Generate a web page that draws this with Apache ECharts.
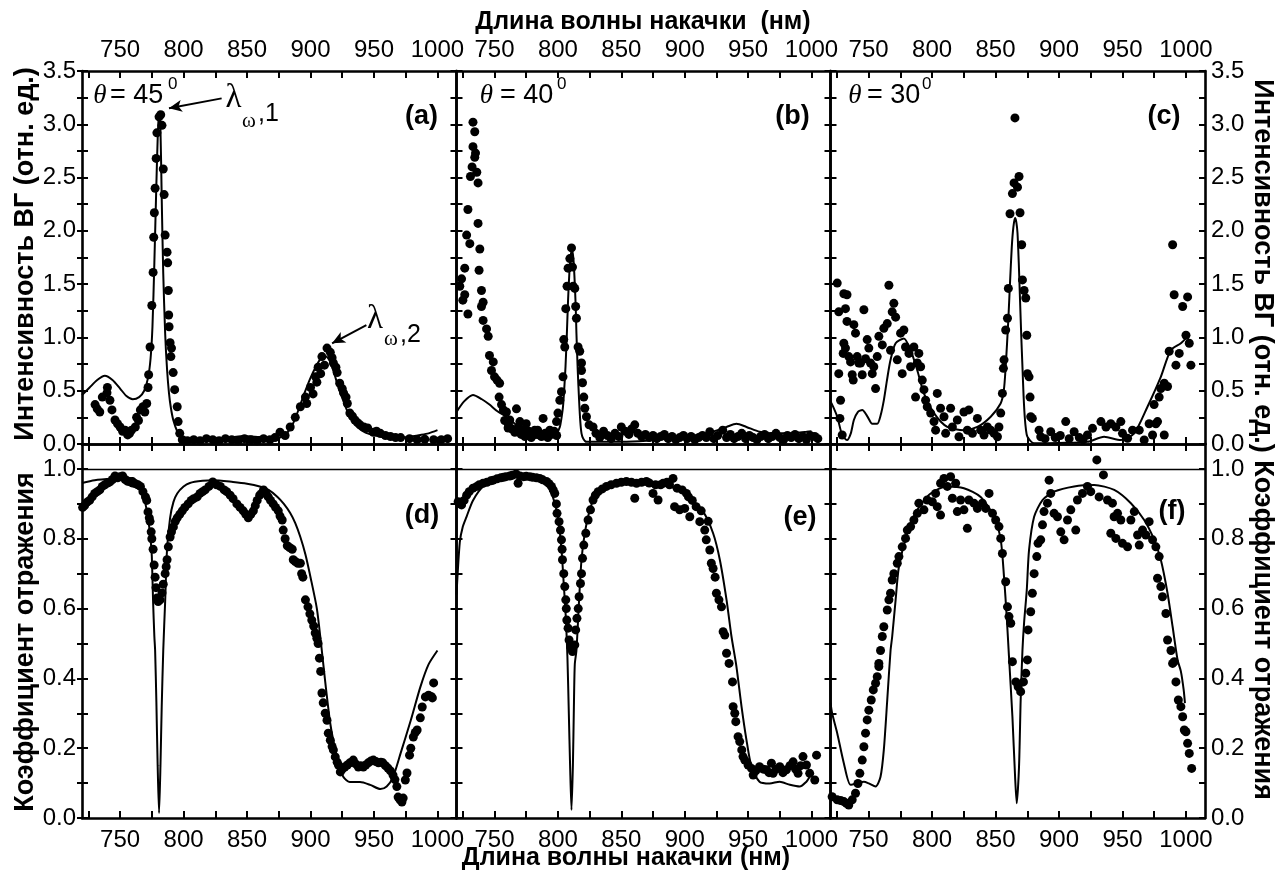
<!DOCTYPE html>
<html lang="ru">
<head>
<meta charset="UTF-8">
<title>ВГ и коэффициент отражения</title>
<style>
  html, body { margin: 0; padding: 0; background: #fff; }
  #chart { width: 1284px; height: 876px; }
</style>
</head>
<body>
<div id="chart"></div>
<script src="https://cdn.jsdelivr.net/npm/echarts@6/dist/echarts.min.js"></script>
<script>
// ---- оси ----
var xTicks = [725, 750, 775, 800, 825, 850, 875, 900, 925, 950, 975, 1000];
var xLabels = [750, 800, 850, 900, 950, 1000];
var shgTicks = [0, 0.25, 0.5, 0.75, 1, 1.25, 1.5, 1.75, 2, 2.25, 2.5, 2.75, 3, 3.25, 3.5];
var shgLabels = [0, 0.5, 1, 1.5, 2, 2.5, 3, 3.5];
var refTicks = [0, 0.1, 0.2, 0.3, 0.4, 0.5, 0.6, 0.7, 0.8, 0.9, 1.0];
var refLabels = [0, 0.2, 0.4, 0.6, 0.8, 1.0];

// ---- (a) theta = 45 ----
var dotsA = [[730.3,0.37],[732,0.33],[734,0.30],[736,0.44],[739.7,0.48],[740,0.53],[742,0.41],[743.6,0.32],[746,0.225],[748,0.19],[750,0.16],[752,0.12],[754,0.13],[756,0.085],[757.5,0.1],[759,0.13],[762,0.16],[763,0.25],[764.5,0.22],[766,0.32],[768,0.35],[769.5,0.3],[771,0.38],[772,0.53],[772.5,0.65],[773.6,0.91],[775,1.30],[776,1.61],[776.5,1.94],[777,2.17],[777.6,2.40],[778.4,2.68],[779,2.92],[780.7,3.07],[782,3.09],[783,2.99],[784,2.58],[784.7,2.34],[785.5,1.96],[787,1.80],[787.5,1.70],[788,1.44],[788.3,1.21],[788.6,1.10],[789.4,0.95],[790,0.82],[790.5,0.9],[791.8,0.67],[793,0.51],[795,0.35],[795.7,0.21],[797,0.10],[799,0.04],
  [803,0.03],[808,0.04],[813,0.03],[818,0.05],[823,0.04],[828,0.03],[833,0.05],[838,0.04],[843,0.03],[848,0.05],[853,0.04],[858,0.03],[863,0.05],[868,0.04],[872,0.06],[876,0.11],[880,0.08],[884,0.16],[888,0.25],[892,0.35],[896,0.44],[897,0.38],[900,0.53],[902,0.47],[904,0.63],[905,0.58],[906,0.72],[908,0.66],[909,0.82],[911,0.74],[913,0.90],[915.6,0.86],[917,0.81],[918,0.76],[920,0.72],[921,0.67],[923,0.57],[925,0.52],[926,0.48],[928,0.44],[929,0.38],[931,0.29],[933,0.26],[935,0.225],[937,0.2],[939,0.18],[942,0.16],[945,0.15],[949.5,0.11],[952,0.12],[955,0.10],[959,0.08],[963,0.07],[967,0.06],[971,0.06],[978,0.05],[984,0.04],[990,0.045],[997,0.04],[1003,0.04],[1008,0.05]];
var lineA = [[720,0.46],[726,0.53],[732,0.6],[738,0.64],[744,0.6],[750,0.52],[755,0.45],[760,0.42],[765,0.44],[769,0.5],[772,0.62],[774,0.8],[775.5,1.1],[777,1.7],[778.5,2.4],[779.7,2.9],[780.7,3.12],[781.8,2.95],[782.8,2.3],[784,1.6],[785.5,1.04],[787,0.7],[788.5,0.48],[790,0.34],[792,0.22],[795,0.12],[798,0.07],[803,0.045],[815,0.04],[830,0.05],[847,0.075],[860,0.065],[874,0.055],[880,0.09],[884,0.14],[888,0.24],[892,0.37],[896,0.5],[900,0.62],[904,0.72],[908,0.8],[912,0.82],[915.6,0.77],[919,0.65],[922,0.53],[926,0.4],[929,0.31],[933,0.23],[937,0.16],[943,0.11],[949.5,0.085],[956,0.065],[963,0.055],[970,0.058],[976,0.065],[986.5,0.085],[993,0.1],[1000,0.13]];

// ---- (b) theta = 40 ----
var dotsB = [[722.6,1.48],[724,1.55],[725,1.35],[726.5,1.65],[726.5,1.40],[728,1.96],[729,2.20],[729,1.22],[730.5,1.88],[731,2.51],[732.3,2.60],[733,3.02],[733,2.79],[734.4,2.93],[734.4,2.69],[735,2.73],[736,2.55],[737,2.45],[737,2.07],[737.8,1.63],[738.4,1.83],[739.7,1.44],[739.7,1.29],[741,1.33],[741,1.16],[743.7,1.08],[745,1.01],[746,0.83],[747.6,0.69],[749,0.77],[750,0.63],[752,0.6],[753.6,0.44],[754,0.57],[755.5,0.37],[757,0.32],[758,0.22],[759.4,0.30],[760.7,0.15],[761,0.18],[762,0.225],[764,0.14],[766,0.11],[767.3,0.33],[769,0.16],[770,0.21],[771,0.09],[772.5,0.13],[774,0.07],[775,0.19],[776.5,0.10],[777,0.12],[779,0.06],[781.7,0.13],[782,0.09],[784,0.13],[785.7,0.10],[787,0.07],[788.3,0.24],[790,0.10],[792,0.06],[793.6,0.13],[795,0.09],[797,0.12],[798.9,0.21],[799,0.08],[800,0.29],[801.5,0.41],[802.8,0.49],[804,0.63],[804.6,0.98],[805.4,0.91],[806.2,1.27],[807.2,1.48],[808,1.65],[809.4,1.74],[810.7,1.84],[811.5,1.66],[812,1.48],[813.3,1.46],[814,1.29],[814.6,1.18],[815.9,0.91],[817.2,0.87],[818.6,0.76],[818.6,0.69],[819.4,0.575],[820.4,0.44],[821.2,0.335],[822.5,0.256],[824.6,0.18],[827.7,0.16],
  [830,0.10],[833,0.06],[836,0.12],[839,0.08],[842,0.05],[845,0.10],[848,0.07],[850,0.16],[853,0.12],[856,0.09],[858,0.14],[860.6,0.18],[863,0.10],[866,0.07],[869,0.09],[872,0.06],[875,0.08],[878,0.05],[881,0.07],[884,0.09],[887,0.05],[890,0.07],[893,0.04],[896,0.06],[899,0.08],[902,0.05],[905,0.07],[908,0.04],[911,0.06],[914,0.08],[917,0.06],[919.8,0.115],[923,0.05],[926,0.08],[930,0.13],[933,0.06],[936,0.09],[939,0.05],[942,0.07],[945,0.1],[948,0.05],[951,0.08],[954,0.06],[957,0.04],[960,0.07],[963,0.09],[966,0.05],[969,0.07],[972,0.1],[975,0.06],[978,0.04],[981,0.08],[984,0.06],[987,0.09],[990,0.05],[993,0.07],[996,0.04],[999,0.08],[1002.6,0.07],[1005,0.05]];
var lineB = [[720,0.30],[726,0.4],[733,0.46],[740,0.42],[746,0.37],[752,0.31],[759.4,0.256],[766,0.19],[772.5,0.13],[779,0.08],[785.7,0.05],[791,0.05],[796,0.07],[799,0.1],[801.5,0.16],[803,0.26],[804,0.35],[805,0.52],[806,0.73],[807,1.02],[808,1.35],[809,1.6],[810,1.76],[811.2,1.82],[812.2,1.74],[813,1.58],[814,1.3],[814.6,1.04],[815.6,0.7],[816.7,0.41],[817.6,0.22],[818.6,0.10],[820,0.05],[822.5,0.02],[835,0.02],[850,0.02],[870,0.03],[890.6,0.053],[905,0.075],[917,0.10],[926,0.13],[933,0.16],[940.8,0.19],[948.7,0.16],[959,0.115],[969.7,0.10],[983,0.10],[996,0.115],[1000,0.12]];

// ---- (c) theta = 30 ----
var dotsC = [[725.3,1.51],[726.5,1.24],[726.5,0.66],[727.4,0.24],[727.9,0.41],[729.2,0.084],[730,0.85],[730.5,1.41],[730.5,0.945],[731.8,1.27],[731.8,0.90],[733,1.40],[733,1.15],[734.4,0.82],[735.8,0.77],[737.1,0.65],[737.9,0.60],[738.4,1.12],[739.7,1.04],[741,0.82],[742.3,0.76],[743.7,0.76],[745,0.65],[746.3,1.26],[747.6,0.80],[748.9,0.98],[750.2,0.90],[751.5,0.76],[752.9,0.66],[754.1,0.725],[755.5,0.52],[756.8,0.82],[758.1,1.01],[760.8,0.93],[762,1.085],[764.7,1.13],[766,1.49],[767.3,0.88],[768.6,1.24],[769.9,1.32],[771.3,1.19],[772.6,0.79],[775.2,1.04],[776.5,0.66],[777.8,1.07],[779.1,0.91],[781.8,0.85],[783.1,0.725],[785.7,0.91],[787,0.44],[788.4,0.76],[789.6,0.85],[791,0.725],[792.3,0.60],[793.6,0.51],[794.9,0.41],[796.2,0.35],[798.9,0.29],[801.5,0.21],[802.8,0.13],[804.1,0.475],[806.7,0.335],[809.4,0.256],[810.7,0.10],[814.6,0.335],[816,0.16],[819.9,0.225],[821.2,0.068],[825.1,0.30],[827.8,0.13],[829,0.32],[831.8,0.10],[835.7,0.24],[838.3,0.13],[840.9,0.084],[843.6,0.16],[846.2,0.13],[848.8,0.10],[851.5,0.068],[852.7,0.16],[854.1,0.29],[855.4,0.475],[856.2,0.71],[856.7,0.79],[858,1.07],[859.4,1.18],[860.1,1.46],[861.4,2.16],[863.3,2.35],[864.6,2.45],[865.3,3.06],[867.3,2.41],[868.5,2.51],[869.3,2.17],[870.6,1.87],[871.2,1.54],[872.5,1.44],[873.8,1.37],[874.6,1.02],[875.1,0.66],[876.4,0.63],[877.2,0.44],[877.7,0.256],[879,0.24],[884.3,0.13],[885.6,0.068],[889,0.05],[893.5,0.115],[897,0.06],[901,0.08],[905.3,0.21],[908,0.05],[911.9,0.115],[916,0.06],[919,0.04],[922.4,0.084],[926.4,0.147],[933,0.21],[937,0.16],[940.8,0.19],[944.8,0.16],[948.7,0.21],[950,0.10],[954,0.053],[957.9,0.13],[963.2,0.13],[967.1,0.037],[971,0.19],[973.7,0.084],[974.9,0.37],[976.3,0.19],[977.6,0.21],[978.9,0.44],[980.2,0.52],[982.9,0.57],[982.9,0.084],[985.5,0.54],[986.8,0.87],[989.5,1.87],[990.7,1.40],[992.1,0.74],[994.7,0.85],[997.4,1.29],[1000,1.02],[1001.3,1.38],[1002.6,0.945],[1003.9,0.74]];
var lineC = [[720,0.40],[721.3,0.37],[725.3,0.256],[729.2,0.084],[733,0.037],[736,0.1],[738.4,0.225],[741.5,0.3],[745,0.32],[749,0.26],[752.9,0.19],[756.8,0.19],[759.5,0.27],[762,0.41],[764.5,0.6],[767.3,0.79],[771.3,0.945],[777.8,0.99],[783.1,0.88],[788.4,0.69],[793.6,0.475],[801.5,0.29],[812,0.16],[825.1,0.13],[835.7,0.16],[846.2,0.256],[854,0.38],[856.5,0.5],[858,0.725],[860,1.15],[861.4,1.51],[862.8,1.85],[864.1,2.04],[865.4,2.12],[866.4,2.08],[867.3,1.98],[868.3,1.7],[869.3,1.35],[870.3,1.0],[871.2,0.725],[872.1,0.45],[873,0.256],[874,0.13],[875.1,0.068],[880.4,0.007],[900,0.01],[922.4,0.02],[935.5,0.068],[948.7,0.037],[959.2,0.10],[969.7,0.35],[980.2,0.63],[988,0.88],[996,0.945],[1001.3,1.01]];

// ---- (d) theta = 45 ----
var dotsD = [[720.5,0.89],[722,0.895],[724,0.905],[726,0.91],[728,0.92],[730,0.93],[732,0.935],[734,0.94],[736,0.95],[738,0.955],[740,0.96],[742,0.963],[744,0.97],[746,0.98],[748,0.975],[750,0.978],[752,0.98],[754,0.97],[756,0.965],[758,0.963],[760,0.96],[762,0.958],[764,0.955],[766,0.95],[768,0.935],[770,0.92],[771,0.91],[772,0.877],[773,0.86],[773.6,0.85],[774.5,0.82],[775,0.80],[776,0.77],[776.8,0.725],[777.6,0.69],[778.3,0.66],[779,0.63],[780,0.62],[781.5,0.625],[783,0.645],[784,0.67],[785.5,0.70],[786.3,0.72],[787,0.74],[788,0.777],[789.4,0.805],[790.5,0.82],[792,0.834],[793.5,0.85],[795,0.86],[797,0.87],[799,0.88],[801,0.89],[803.6,0.90],[806,0.91],[808,0.915],[810.7,0.92],[813,0.93],[815,0.935],[817,0.94],[820,0.95],[823,0.963],[826,0.955],[829,0.95],[832,0.94],[834,0.935],[836.7,0.925],[839,0.915],[842,0.90],[844.5,0.89],[847,0.88],[849,0.87],[851,0.86],[853,0.87],[855,0.88],[856.5,0.895],[858,0.91],[860,0.925],[861.5,0.93],[863,0.94],[865,0.93],[866.7,0.92],[868.5,0.91],[870.6,0.90],[872.5,0.89],[874.6,0.88],[876,0.865],[877.7,0.854],[878.5,0.825],[880,0.80],[881.7,0.78],[883.5,0.775],[885.6,0.77],[886.4,0.74],[888,0.735],[890,0.73],[892,0.73],[893,0.70],[894,0.69],[896,0.625],[898,0.605],[899.5,0.585],[901,0.567],[902.5,0.55],[903.7,0.53],[905,0.515],[906,0.50],[907,0.458],[908,0.42],[909,0.358],[910,0.33],[911.6,0.30],[913,0.28],[914,0.243],[915.6,0.223],[917,0.205],[918,0.195],[919.5,0.175],[921,0.16],[922,0.152],[923.5,0.132],[925,0.14],[927,0.146],[929,0.152],[931,0.158],[933.7,0.166],[935.5,0.155],[937.7,0.146],[939.5,0.15],[941.6,0.146],[943.5,0.152],[945.5,0.158],[947.5,0.163],[949.5,0.166],[951.5,0.162],[953.5,0.158],[955.5,0.16],[957,0.158],[959,0.15],[961,0.143],[963,0.135],[965,0.123],[966.5,0.11],[968,0.09],[969,0.06],[970.5,0.052],[972,0.046],[973,0.057],[974.7,0.109],[976,0.129],[978,0.18],[979,0.20],[981,0.232],[982.5,0.245],[984,0.252],[986.5,0.287],[988,0.318],[990.5,0.347],[993,0.352],[995,0.348],[996,0.344],[997,0.387]];
var lineD = [[720,0.96],[730,0.968],[745,0.972],[760,0.974],[764,0.96],[768,0.93],[770,0.9],[772,0.86],[774,0.8],[775,0.75],[776,0.62],[777,0.52],[777.6,0.48],[778.6,0.33],[779.6,0.15],[780.7,0.014],[781.8,0.15],[782.8,0.32],[784,0.48],[785.5,0.62],[787,0.77],[789.4,0.86],[792,0.905],[795,0.93],[800,0.95],[805,0.96],[815,0.966],[823,0.968],[839,0.963],[850,0.958],[860,0.95],[867,0.94],[874,0.92],[879,0.9],[884,0.874],[888,0.845],[892,0.805],[896,0.755],[900,0.69],[905,0.60],[908.6,0.49],[911.6,0.39],[915.6,0.27],[919.5,0.195],[923,0.145],[926,0.117],[931,0.103],[939,0.103],[947,0.095],[955,0.083],[960,0.09],[965,0.117],[971,0.186],[979,0.28],[986.5,0.375],[993,0.44],[1000,0.48]];

// ---- (e) theta = 40 ----
var dotsE = [[721.3,0.906],[723,0.90],[724,0.897],[726,0.91],[728,0.925],[730,0.935],[733,0.945],[736,0.95],[738,0.955],[741,0.959],[744,0.962],[747,0.966],[749,0.968],[752,0.972],[755,0.975],[757,0.976],[759,0.978],[762,0.98],[764,0.982],[767,0.986],[768.6,0.959],[770,0.98],[773,0.978],[775,0.979],[777.8,0.978],[780,0.976],[783,0.975],[785.7,0.973],[788,0.969],[791,0.964],[793,0.958],[794.9,0.95],[796.3,0.94],[797.5,0.93],[798.8,0.90],[799.3,0.873],[800.9,0.849],[802,0.825],[802.8,0.797],[803.3,0.77],[803.6,0.74],[804.6,0.70],[805.4,0.663],[806.2,0.625],[806.6,0.60],[807,0.567],[808,0.544],[808.8,0.51],[810,0.49],[811.5,0.477],[813.3,0.496],[814,0.539],[815,0.572],[816,0.60],[816.7,0.634],[817.8,0.672],[818.6,0.70],[819.4,0.744],[820.4,0.782],[822,0.816],[823.8,0.854],[825.7,0.883],[827.7,0.911],[829.5,0.925],[831.7,0.935],[835,0.943],[838.3,0.95],[842,0.955],[846.2,0.959],[850,0.962],[854,0.964],[858,0.962],[860.6,0.916],[862,0.959],[866,0.962],[869.8,0.964],[872,0.96],[875,0.93],[877,0.955],[879,0.911],[881,0.955],[883,0.959],[886,0.962],[888,0.955],[890.8,0.973],[892,0.892],[894,0.945],[896,0.883],[898,0.94],[900,0.887],[901.4,0.93],[903,0.92],[904,0.863],[906,0.91],[909,0.892],[911.9,0.849],[913,0.88],[915.8,0.825],[917,0.797],[918.5,0.85],[919.8,0.768],[921,0.73],[922.4,0.715],[924,0.69],[925,0.644],[927,0.625],[929,0.605],[930.3,0.534],[931.6,0.524],[933,0.472],[935,0.443],[937.7,0.39],[938.2,0.319],[939.5,0.30],[940.3,0.276],[942.1,0.233],[943.4,0.219],[945,0.195],[946,0.176],[947.4,0.166],[950,0.152],[952.7,0.142],[954,0.123],[956,0.135],[959,0.147],[962,0.14],[964.5,0.138],[966.5,0.13],[968.4,0.157],[969.7,0.128],[972,0.14],[975,0.147],[977.5,0.13],[980.2,0.138],[983,0.15],[985.5,0.161],[987.5,0.14],[989.4,0.128],[991.5,0.15],[993.3,0.176],[996,0.152],[998.6,0.128],[1002.6,0.109],[1004,0.18]];
var lineE = [[720,0.64],[722.6,0.79],[725,0.835],[727.9,0.863],[733,0.91],[741,0.95],[754,0.973],[770,0.983],[783,0.973],[791,0.959],[796,0.92],[800,0.863],[802.8,0.77],[804.6,0.67],[806.2,0.577],[807.5,0.46],[808.6,0.3],[809.6,0.15],[810.7,0.023],[811.8,0.15],[812.6,0.32],[813.3,0.44],[814.6,0.48],[816.7,0.625],[818.6,0.74],[821.2,0.816],[825,0.88],[830.4,0.93],[843.5,0.954],[864.6,0.963],[885.6,0.954],[901.4,0.925],[914.5,0.878],[922.4,0.816],[927.7,0.74],[933,0.625],[936.9,0.52],[940.8,0.434],[944.8,0.32],[948.7,0.224],[952.7,0.147],[959,0.104],[967,0.099],[974.9,0.104],[983,0.095],[990.7,0.09],[996,0.104],[998.6,0.118]];

// ---- (f) theta = 30 ----
var dotsF = [[721.3,0.061],[725.3,0.052],[728,0.05],[730.5,0.047],[732.5,0.042],[734.4,0.037],[737.1,0.052],[739.7,0.071],[741.6,0.099],[743.1,0.128],[745,0.166],[746.3,0.204],[747.6,0.243],[748.9,0.281],[750.2,0.309],[752.1,0.338],[753.7,0.367],[755.5,0.386],[756.8,0.405],[758.1,0.434],[758.1,0.443],[759.4,0.48],[760.8,0.52],[762,0.548],[764.7,0.596],[766,0.625],[767.3,0.644],[768.6,0.682],[769.9,0.70],[772.6,0.73],[773.9,0.749],[776.5,0.777],[779.1,0.801],[780.5,0.825],[783.1,0.835],[785.7,0.854],[788.4,0.873],[789.6,0.902],[793.6,0.883],[796.2,0.911],[800.2,0.906],[802.8,0.93],[804.1,0.892],[806.7,0.868],[806.7,0.959],[809.4,0.973],[812,0.95],[814.6,0.978],[816,0.916],[818.6,0.959],[819.9,0.878],[822.5,0.911],[825.1,0.883],[827.8,0.83],[829,0.911],[833,0.902],[835.7,0.887],[839.6,0.902],[842.3,0.887],[844.9,0.93],[847.6,0.873],[850.1,0.854],[852.7,0.835],[854.1,0.801],[855.4,0.758],[858,0.677],[859.4,0.605],[860.6,0.577],[862,0.558],[863.3,0.448],[866,0.39],[867.8,0.376],[869.8,0.362],[872,0.39],[873.8,0.415],[875.1,0.453],[875.6,0.539],[877.7,0.591],[879,0.644],[880.4,0.70],[882.5,0.749],[883.5,0.787],[885.6,0.797],[887,0.84],[888.2,0.878],[890.9,0.902],[892.2,0.968],[893.5,0.93],[896.1,0.873],[898.8,0.863],[901.4,0.82],[904,0.797],[906.7,0.854],[909.3,0.883],[913.2,0.825],[914.5,0.911],[918.5,0.93],[922.4,0.95],[925,0.935],[929.8,1.026],[931.6,0.92],[935,0.983],[938.2,0.911],[940.8,0.816],[942.1,0.902],[943.4,0.863],[944.8,0.801],[946.1,0.873],[948.7,0.854],[950,0.787],[954,0.777],[956.6,0.854],[959.3,0.878],[961.9,0.811],[963.2,0.782],[965.8,0.825],[968.4,0.811],[971,0.849],[973.7,0.797],[976.3,0.777],[977.6,0.687],[978.9,0.749],[980.2,0.663],[981.5,0.634],[984.2,0.586],[985.5,0.51],[988.2,0.48],[989.5,0.443],[990.8,0.448],[992.1,0.39],[994,0.338],[996,0.319],[997.4,0.29],[998.7,0.252],[1000,0.247],[1001.3,0.214],[1002.6,0.185],[1004.5,0.142]];
var lineF = [[720,0.33],[721.3,0.30],[725.3,0.243],[730.5,0.157],[735.8,0.095],[741,0.099],[746.3,0.104],[750.2,0.099],[755.5,0.09],[759.4,0.118],[762,0.195],[764.7,0.338],[767.3,0.48],[768.6,0.52],[771.3,0.625],[773.9,0.72],[780.5,0.816],[788.4,0.883],[798.9,0.93],[812,0.95],[825.1,0.945],[838.3,0.92],[848.8,0.863],[854.1,0.797],[856.7,0.69],[858.8,0.577],[860.6,0.462],[863.3,0.29],[865.4,0.118],[866.7,0.042],[868.5,0.147],[869.8,0.338],[871.2,0.48],[872.5,0.56],[874.6,0.653],[876.4,0.768],[880.4,0.863],[887,0.911],[896.1,0.935],[911.9,0.95],[927.7,0.954],[943.5,0.94],[956.6,0.902],[967.1,0.854],[975,0.797],[980.2,0.74],[985.5,0.644],[989.5,0.548],[993.4,0.453],[996,0.42],[998.2,0.367],[999.2,0.329]];

var dotSets = [dotsA, dotsB, dotsC, dotsD, dotsE, dotsF];
var lineSets = [lineA, lineB, lineC, lineD, lineE, lineF];

// ---- сетка 2x3 ----
var gridBoxes = [
  { left: 82, top: 71, width: 374.5, height: 373 },
  { left: 456.5, top: 71, width: 374, height: 373 },
  { left: 830.5, top: 71, width: 374.5, height: 373 },
  { left: 82, top: 444, width: 374.5, height: 374 },
  { left: 456.5, top: 444, width: 374, height: 374 },
  { left: 830.5, top: 444, width: 374.5, height: 374 }
];

var FONT = 'Liberation Sans';
var lineW = 2.6;

function fmt(v) { return Number(v).toFixed(1); }

function xAx(g, pos, showLab) {
  return {
    type: 'value', gridIndex: g, position: pos, min: 720, max: 1015,
    axisLine: { show: true, onZero: false, lineStyle: { color: '#000', width: lineW } },
    axisTick: { show: true, inside: true, length: 7, customValues: xTicks, lineStyle: { color: '#000', width: 2 } },
    axisLabel: { show: showLab, customValues: xLabels, formatter: function (v) { return String(v); },
                 color: '#000', fontSize: 24, fontFamily: FONT, margin: pos === 'top' ? 9 : 10 },
    splitLine: { show: false }
  };
}

function yAx(g, pos, showLab, outside) {
  var top = g < 3;
  return {
    type: 'value', gridIndex: g, position: pos, min: 0, max: top ? 3.5 : 1.0716,
    axisLine: { show: !outside, onZero: false, lineStyle: { color: '#000', width: lineW } },
    axisTick: { show: true, inside: !outside, length: outside ? 5 : 6, customValues: top ? shgTicks : refTicks, lineStyle: { color: '#000', width: 2 } },
    axisLabel: { show: showLab, customValues: top ? shgLabels : refLabels, formatter: fmt, color: '#000', fontSize: 24, fontFamily: FONT, margin: 6 },
    splitLine: { show: false }
  };
}

var xAxes = [], yAxes = [], series = [];
for (var g = 0; g < 6; g++) {
  var topRow = g < 3;
  xAxes.push(xAx(g, 'bottom', !topRow));
  xAxes.push(xAx(g, 'top', topRow));
  yAxes.push(yAx(g, 'left', g === 0 || g === 3, false));
  yAxes.push(yAx(g, 'right', g === 2 || g === 5, false));
}
// внешние засечки слева
yAxes.push(yAx(0, 'left', false, true));
yAxes.push(yAx(3, 'left', false, true));

for (var k = 0; k < 6; k++) {
  series.push({
    type: 'scatter', xAxisIndex: 2 * k, yAxisIndex: 2 * k, data: dotSets[k],
    symbol: 'circle', symbolSize: 9, itemStyle: { color: '#000', opacity: 1 }, silent: true, z: 3
  });
  var ln = {
    type: 'line', xAxisIndex: 2 * k, yAxisIndex: 2 * k, data: lineSets[k],
    showSymbol: false, smooth: 0.25, lineStyle: { color: '#000', width: 2 }, silent: true, z: 4
  };
  if (k >= 3) {
    ln.markLine = {
      silent: true, symbol: 'none', label: { show: false },
      lineStyle: { color: '#000', width: 1.4, type: 'solid' },
      data: [{ yAxis: 1 }]
    };
  }
  if (k === 0) {
    ln.markLine = {
      silent: true, label: { show: false },
      lineStyle: { color: '#000', width: 2, type: 'solid' },
      data: [
        [{ coord: [830, 3.243], symbol: 'none' }, { coord: [788.5, 3.15], symbol: 'arrow', symbolSize: [9, 13] }],
        [{ coord: [944, 1.116], symbol: 'none' }, { coord: [917, 0.945], symbol: 'arrow', symbolSize: [9, 13] }]
      ]
    };
  }
  series.push(ln);
}

function txt(x, y, s, font, align, rot) {
  return {
    type: 'text', x: x, y: y, rotation: rot || 0, silent: true, z: 10,
    style: { text: s, font: font, fill: '#000', align: align || 'center', verticalAlign: 'middle',
             textAlign: align || 'center', textVerticalAlign: 'middle' }
  };
}

var bold25 = 'bold 25px "' + FONT + '"';
var boldV = 'bold 27px "' + FONT + '"';
var thetaF = 'italic 27px "Liberation Serif"';
var eqF = '27px "' + FONT + '"';
var supF = '17px "' + FONT + '"';
var tagF = 'bold 27px "' + FONT + '"';

var texts = [
  txt(643, 22, 'Длина волны накачки  (нм)', bold25),
  txt(626, 858, 'Длина волны накачки (нм)', bold25),
  txt(26, 254, 'Интенсивность ВГ (отн. ед.)', boldV, 'center', Math.PI / 2),
  txt(26, 642, 'Коэффициент отражения', boldV, 'center', Math.PI / 2),
  txt(1262, 266, 'Интенсивность ВГ (отн. ед.)', boldV, 'center', -Math.PI / 2),
  txt(1262, 630, 'Коэффициент отражения', boldV, 'center', -Math.PI / 2),

  txt(100, 96, 'θ', thetaF), txt(110, 96, '= 45', eqF, 'left'), txt(168, 84, '0', supF, 'left'),
  txt(486.5, 96, 'θ', thetaF), txt(500, 96, '= 40', eqF, 'left'), txt(557, 84, '0', supF, 'left'),
  txt(855, 96, 'θ', thetaF), txt(867, 96, '= 30', eqF, 'left'), txt(922, 84, '0', supF, 'left'),

  txt(421.5, 117, '(a)', tagF), txt(792.5, 117, '(b)', tagF), txt(1164, 117, '(c)', tagF),
  txt(422, 516, '(d)', tagF), txt(800, 518, '(e)', tagF), txt(1172, 512, '(f)', tagF),

  txt(233.5, 98, 'λ', '33px "Liberation Serif"'),
  txt(242, 121, 'ω', '21px "Liberation Serif"', 'left'),
  txt(258, 114, ',1', '25px "' + FONT + '"', 'left'),
  txt(375, 319, 'λ', '33px "Liberation Serif"'),
  txt(384, 339, 'ω', '21px "Liberation Serif"', 'left'),
  txt(400, 335, ',2', '25px "' + FONT + '"', 'left')
];

var chart = echarts.init(document.getElementById('chart'), null, { renderer: 'canvas' });
chart.setOption({
  animation: false,
  backgroundColor: '#fff',
  grid: gridBoxes,
  xAxis: xAxes,
  yAxis: yAxes,
  series: series,
  graphic: texts
});
</script>
</body>
</html>
